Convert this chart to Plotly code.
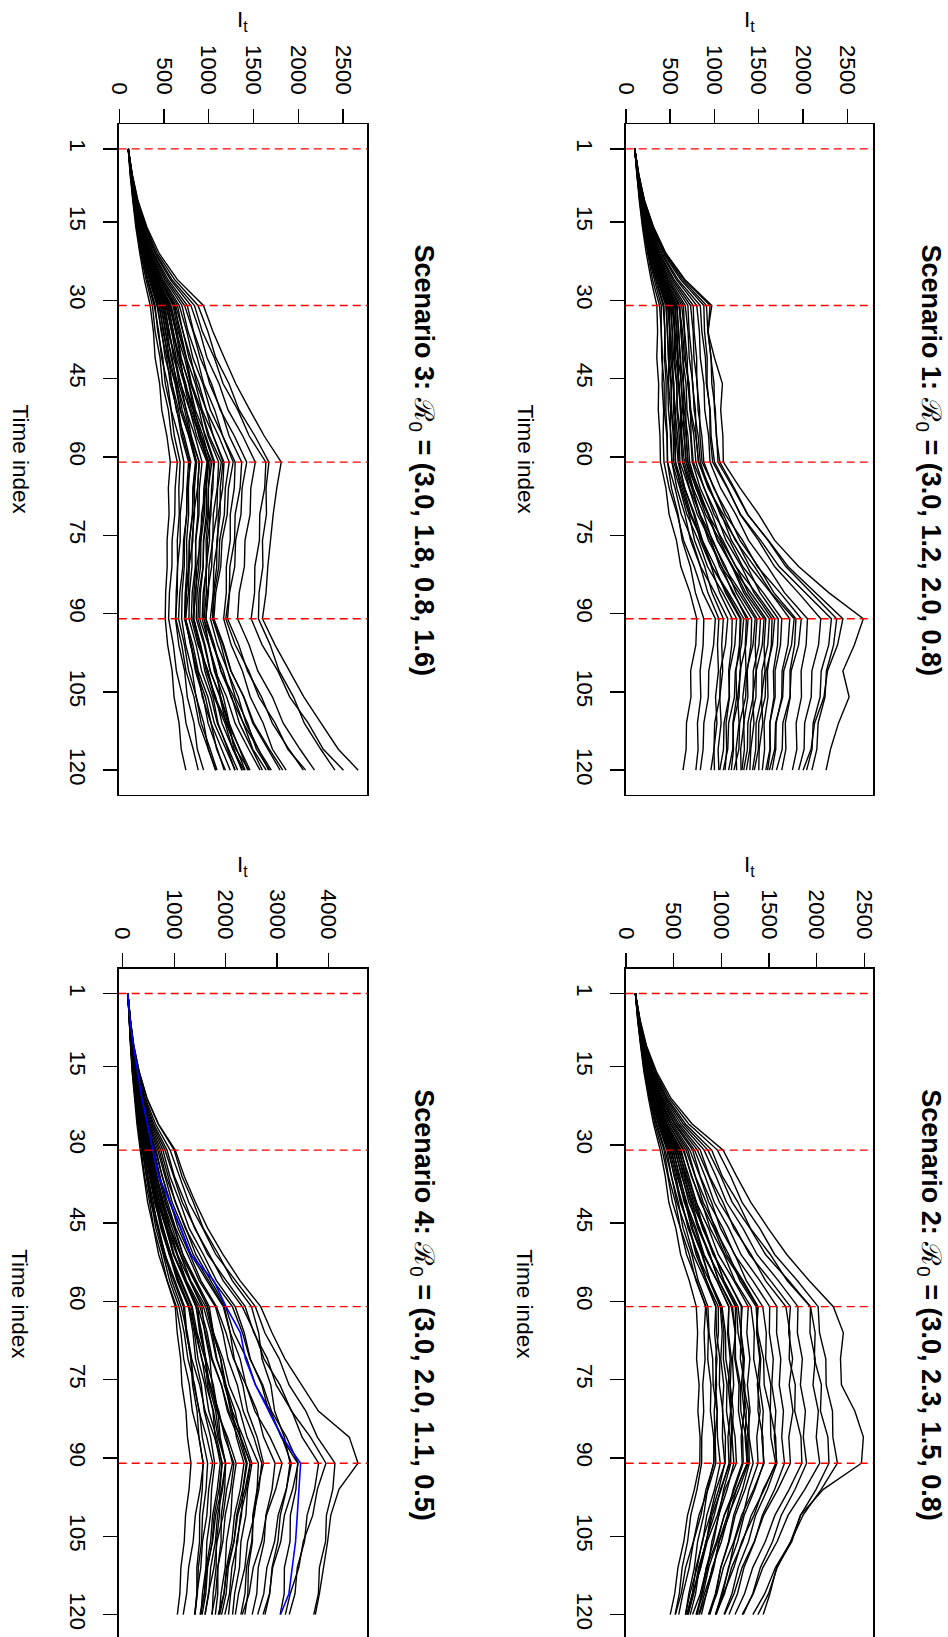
import plotly.graph_objects as go

# ---------------- data ----------------
time_knots = [1, 6, 11, 16, 21, 26, 31, 36, 41, 46, 51, 56, 61, 66, 71, 76, 81, 86, 91, 96, 101, 106, 111, 116, 120]
change_points = [1, 31, 61, 91]
time_ticks = [1, 15, 30, 45, 60, 75, 90, 105, 120]
it_ticks_small = [0, 500, 1000, 1500, 2000, 2500]
it_ticks_large = [0, 1000, 2000, 3000, 4000]

scenario_labels = ["Scenario 1:", "Scenario 2:", "Scenario 3:", "Scenario 4:"]
scenario_r0 = ["(3.0, 1.2, 2.0, 0.8)", "(3.0, 2.3, 1.5, 0.8)", "(3.0, 1.8, 0.8, 1.6)", "(3.0, 2.0, 1.1, 0.5)"]

scenario1 = [
    [100,123,152,187,230,284,350,358,349,370,366,385,390,452,488,571,620,724,800,790,731,735,684,680,645],
    [100,124,157,192,246,300,380,401,404,432,433,463,470,515,590,636,728,785,880,872,838,846,808,815,790],
    [100,127,157,203,250,320,400,398,415,409,426,421,430,489,580,652,771,868,1010,990,936,931,880,872,840],
    [100,128,160,207,258,334,420,441,447,474,480,510,520,576,666,731,841,925,1050,1034,1045,1012,1028,994,1000],
    [100,129,162,210,263,341,430,440,436,455,451,468,470,555,625,748,843,1004,1150,1125,1066,1060,1002,995,960],
    [100,130,164,214,271,354,450,472,478,508,515,548,560,620,712,776,890,972,1100,1082,1093,1060,1075,1041,1050],
    [100,130,167,213,279,355,460,466,484,482,505,503,520,611,688,818,921,1092,1250,1230,1170,1165,1108,1102,1060],
    [100,131,166,219,279,367,470,496,505,540,548,585,600,665,766,840,964,1058,1200,1195,1160,1170,1131,1138,1120],
    [100,129,170,217,287,368,480,495,492,516,514,535,540,636,722,858,972,1158,1330,1305,1236,1225,1160,1150,1100],
    [100,131,171,223,286,378,490,500,526,531,560,566,590,664,777,865,1006,1124,1290,1282,1243,1250,1208,1215,1190],
    [100,132,170,226,290,385,500,527,537,573,583,622,640,720,838,932,1082,1205,1380,1356,1288,1278,1214,1206,1160],
    [100,130,173,224,298,387,510,522,519,541,538,556,560,652,735,864,972,1142,1300,1285,1296,1262,1278,1244,1250],
    [100,133,172,230,298,398,520,550,563,603,615,660,680,760,880,972,1124,1245,1420,1412,1370,1377,1330,1338,1310],
    [100,131,175,228,306,400,530,548,550,575,577,603,610,714,806,955,1078,1274,1460,1435,1362,1352,1284,1276,1220],
    [100,133,174,234,306,410,540,553,584,590,625,632,660,752,829,958,1058,1218,1360,1348,1356,1320,1334,1296,1300],
    [100,134,175,237,310,417,550,578,590,628,638,680,700,790,925,1034,1208,1352,1560,1540,1472,1468,1406,1400,1360],
    [100,132,179,235,318,419,560,568,590,592,617,620,640,745,838,984,1106,1300,1480,1460,1470,1432,1446,1410,1400],
    [100,135,178,241,317,430,570,598,610,648,657,700,720,806,935,1035,1198,1330,1520,1502,1438,1436,1377,1372,1330],
    [100,133,181,239,325,431,580,591,618,622,651,656,680,795,898,1062,1198,1414,1620,1602,1536,1534,1470,1466,1430],
    [100,136,181,247,328,448,600,628,640,679,690,731,750,840,972,1076,1243,1380,1580,1560,1570,1530,1545,1505,1500],
    [100,134,184,245,336,449,610,620,645,650,676,682,700,820,927,1096,1240,1466,1680,1655,1582,1572,1500,1496,1450],
    [100,137,184,253,339,466,630,660,672,712,722,768,790,884,1022,1130,1305,1446,1650,1642,1598,1604,1560,1566,1540],
    [100,136,188,253,350,474,650,663,692,698,730,736,760,886,996,1170,1318,1550,1760,1745,1684,1685,1625,1626,1580],
    [100,138,188,261,353,491,670,702,715,757,770,816,840,938,1078,1192,1370,1514,1720,1712,1665,1672,1625,1632,1600],
    [100,139,190,267,364,508,700,714,745,751,785,792,820,950,1065,1246,1398,1634,1850,1830,1764,1760,1696,1692,1650],
    [100,140,193,272,374,526,730,760,768,807,815,858,880,992,1153,1288,1495,1670,1920,1905,1852,1856,1800,1806,1760],
    [100,141,195,277,383,543,760,770,799,801,832,836,860,1000,1122,1318,1484,1740,1980,1950,1866,1852,1772,1765,1700],
    [100,142,199,285,398,569,800,830,840,881,890,934,950,1070,1240,1385,1600,1790,2050,2035,1978,1982,1922,1930,1880],
    [100,143,202,291,408,586,840,858,898,908,952,962,1000,1152,1290,1497,1678,1946,2200,2175,2100,2092,2018,2012,1950],
    [100,144,205,299,424,616,880,888,918,916,948,950,980,1145,1295,1522,1730,2030,2320,2290,2205,2192,2114,2102,2040],
    [100,145,208,304,436,635,910,925,962,970,1010,1020,1060,1225,1376,1604,1805,2098,2380,2345,2264,2248,2170,2156,2100],
    [100,146,210,310,446,655,950,930,960,995,1000,1025,1040,1212,1372,1610,1830,2144,2450,2390,2276,2236,2130,2090,2000],
    [100,147,212,313,452,665,970,925,1000,1090,1070,1095,1100,1290,1500,1680,1950,2290,2680,2580,2450,2520,2400,2310,2260],
    [100,134,183,243,332,443,600,640,660,712,732,790,820,930,1098,1236,1452,1640,1900,1870,1782,1770,1690,1680,1620],
]

scenario2 = [
    [100,123,154,189,236,290,360,412,450,524,574,664,738,752,741,768,755,778,775,718,646,607,546,512,465],
    [100,124,157,194,246,303,380,440,488,572,636,742,836,820,830,806,816,795,794,746,680,647,590,560,516],
    [100,126,160,199,253,316,400,446,520,572,665,734,840,865,858,892,886,920,924,840,786,709,664,598,554],
    [100,127,159,203,255,325,410,478,534,630,706,830,943,930,955,938,960,935,943,862,765,708,626,580,519],
    [100,129,162,209,264,339,430,476,550,600,692,758,860,872,910,915,955,960,989,930,848,805,735,697,643],
    [100,128,165,210,268,345,440,510,570,668,748,874,990,1010,995,1026,1012,1044,1040,946,884,800,746,672,624],
    [100,130,164,214,271,354,450,505,588,652,760,842,968,970,942,950,926,934,919,855,816,752,718,660,625],
    [100,129,167,214,279,356,460,524,578,667,735,846,943,950,985,980,1016,1012,1037,974,890,844,770,731,674],
    [100,131,167,219,280,366,470,546,612,722,810,952,1081,1066,1094,1072,1098,1070,1081,1000,904,845,762,712,649],
    [100,130,170,218,286,369,480,536,622,688,796,882,1008,1044,1048,1092,1100,1145,1159,1040,958,852,785,698,637],
    [100,131,169,222,289,375,490,566,630,735,820,955,1078,1075,1106,1094,1126,1112,1132,1062,972,920,842,797,736],
    [100,131,172,223,293,381,500,555,638,700,803,882,1000,1028,1022,1060,1055,1094,1100,1025,975,902,858,792,748],
    [100,132,171,227,294,391,510,590,660,774,866,1013,1148,1150,1118,1130,1100,1110,1090,992,926,838,782,705,654],
    [100,131,174,227,301,394,520,584,679,754,876,975,1118,1148,1142,1186,1180,1224,1230,1138,1030,960,868,810,738],
    [100,133,173,231,303,403,530,616,692,814,914,1072,1219,1204,1236,1210,1240,1208,1219,1126,1064,975,922,844,792],
    [100,132,176,231,309,406,540,602,694,765,882,972,1107,1146,1150,1200,1205,1258,1273,1160,1082,980,914,824,764],
    [100,134,176,237,310,416,550,634,708,826,920,1074,1210,1208,1242,1228,1262,1250,1271,1160,1032,950,846,780,699],
    [100,133,179,236,318,420,560,626,725,802,928,1028,1176,1208,1200,1248,1240,1288,1294,1222,1130,1077,995,946,880],
    [100,135,178,241,317,429,570,660,738,866,968,1132,1283,1268,1300,1274,1302,1270,1283,1186,1074,1002,905,845,770],
    [100,133,181,239,325,431,580,644,740,812,930,1024,1160,1176,1228,1232,1288,1292,1334,1250,1146,1083,994,938,867],
    [100,136,181,247,328,447,600,696,784,922,1035,1214,1380,1376,1414,1400,1440,1425,1449,1340,1212,1132,1022,954,869],
    [100,134,184,245,336,449,610,686,796,884,1028,1142,1312,1346,1340,1390,1385,1436,1443,1352,1240,1172,1075,1015,938],
    [100,137,184,253,339,466,630,726,810,946,1055,1228,1386,1370,1404,1378,1408,1372,1386,1292,1228,1138,1080,1000,942],
    [100,136,188,253,350,474,650,728,842,932,1078,1195,1365,1384,1444,1450,1514,1520,1570,1452,1314,1226,1108,1034,942],
    [100,138,188,260,354,489,670,776,868,1018,1138,1330,1508,1504,1545,1530,1572,1556,1583,1484,1360,1286,1178,1112,1029],
    [100,139,190,267,364,508,700,780,898,992,1142,1262,1435,1472,1466,1520,1514,1570,1579,1440,1342,1215,1132,1024,947],
    [100,140,192,269,371,518,720,830,926,1080,1206,1404,1584,1580,1624,1608,1652,1634,1663,1560,1430,1350,1238,1170,1081],
    [100,141,195,275,382,537,750,870,980,1150,1295,1516,1725,1706,1748,1712,1752,1708,1725,1594,1444,1346,1218,1134,1035],
    [100,142,197,280,392,555,780,876,1018,1132,1312,1464,1677,1720,1712,1776,1770,1836,1845,1712,1562,1462,1330,1244,1144],
    [100,143,201,288,406,578,820,944,1055,1228,1375,1598,1804,1798,1850,1830,1882,1860,1894,1774,1628,1538,1410,1330,1231],
    [100,144,204,294,419,602,860,995,1115,1302,1464,1706,1935,1930,1985,1962,2018,1996,2032,1876,1700,1586,1436,1336,1219],
    [100,145,207,301,432,625,900,1010,1175,1306,1514,1690,1935,1984,1976,2050,2040,2118,2129,1994,1830,1728,1586,1496,1384],
    [100,148,216,321,470,695,1020,1160,1310,1492,1687,1920,2175,2280,2250,2260,2400,2490,2470,2070,1830,1740,1580,1510,1440],
    [100,147,211,311,450,659,960,1098,1218,1404,1560,1796,2016,2030,2096,2100,2166,2170,2218,2048,1856,1730,1568,1456,1331],
]

scenario3 = [
    [100,121,151,184,229,279,345,381,400,451,474,532,570,548,556,534,535,518,513,540,590,612,668,692,744],
    [100,125,154,193,238,298,370,400,455,482,548,582,648,624,620,590,588,560,551,604,638,708,745,826,882],
    [100,124,158,196,249,310,390,440,472,540,580,662,722,712,680,681,650,648,628,665,730,760,835,872,942],
    [100,127,158,202,251,319,400,430,486,514,578,615,680,665,670,648,652,636,632,698,745,835,890,995,1075],
    [100,128,160,207,258,333,420,474,512,588,636,726,798,760,754,718,710,676,662,728,775,862,915,1016,1092],
    [100,129,162,209,264,339,430,468,530,570,645,694,774,755,752,728,726,702,697,742,815,858,944,995,1080],
    [100,128,165,209,270,343,440,499,542,624,678,778,858,826,818,782,776,740,729,805,860,962,1026,1146,1240],
    [100,130,164,214,271,354,450,488,550,588,662,709,788,772,775,752,756,738,733,800,850,938,992,1096,1172],
    [100,130,167,213,279,355,460,517,558,634,685,778,851,822,818,785,782,750,740,822,882,990,1062,1192,1295],
    [100,131,167,219,280,366,470,516,590,640,730,793,893,875,830,822,780,772,741,795,876,928,1025,1088,1186],
    [100,129,170,217,287,368,480,535,578,652,702,792,864,840,840,812,812,784,778,858,920,1025,1096,1222,1322],
    [100,131,169,223,287,378,490,542,625,685,788,864,980,945,936,895,888,848,833,904,955,1047,1104,1211,1291],
    [100,132,170,226,291,384,500,560,606,690,745,845,925,895,890,855,850,815,805,880,990,1068,1203,1302,1449],
    [100,131,173,224,298,387,510,553,622,667,750,805,893,875,878,852,856,834,830,910,972,1078,1148,1272,1370],
    [100,133,172,230,298,398,520,586,636,726,788,898,988,956,950,912,908,870,860,948,1015,1133,1212,1350,1461],
    [100,133,174,231,303,404,530,585,672,732,838,914,1034,995,988,944,936,892,879,958,1018,1124,1192,1312,1406],
    [100,134,176,236,311,408,540,605,655,744,805,912,999,972,972,940,938,906,899,996,1072,1200,1294,1446,1573],
    [100,133,178,235,314,413,550,600,676,730,824,888,990,970,920,910,866,856,822,890,990,1060,1182,1268,1397],
    [100,135,177,239,315,423,560,630,686,781,850,966,1064,1030,1024,984,978,938,926,1005,1062,1163,1229,1345,1435],
    [100,133,180,238,321,426,570,632,727,797,915,1006,1140,1098,1090,1040,1032,985,969,1062,1134,1257,1342,1484,1599],
    [100,135,179,243,322,435,580,644,692,776,833,935,1015,995,998,970,974,948,944,1050,1138,1280,1386,1554,1699],
    [100,136,181,247,328,447,600,658,745,808,914,992,1110,1095,1050,1045,1002,996,966,1045,1162,1248,1387,1492,1642],
    [100,136,182,248,333,452,610,686,748,850,926,1052,1159,1128,1127,1090,1089,1052,1043,1136,1210,1330,1416,1555,1669],
    [100,137,184,252,340,464,630,712,779,890,972,1110,1229,1185,1174,1122,1112,1062,1044,1156,1246,1394,1504,1678,1827],
    [100,138,186,256,347,477,650,710,798,864,972,1050,1170,1155,1106,1100,1056,1050,1018,1098,1212,1296,1434,1532,1680],
    [100,138,188,260,354,489,670,754,822,934,1018,1156,1273,1220,1206,1148,1134,1078,1057,1165,1250,1390,1492,1658,1797],
    [100,139,190,266,365,507,700,768,870,943,1066,1156,1295,1285,1240,1240,1196,1196,1166,1250,1376,1464,1608,1712,1865],
    [100,140,193,271,375,524,730,825,904,1031,1128,1286,1424,1372,1360,1300,1290,1232,1210,1334,1432,1590,1710,1896,2057],
    [100,141,195,277,383,543,760,830,934,1010,1137,1228,1368,1350,1295,1288,1236,1230,1190,1296,1448,1560,1742,1884,2083],
    [100,142,199,285,398,569,800,900,980,1115,1215,1380,1520,1470,1462,1405,1398,1340,1322,1450,1548,1712,1832,2020,2182],
    [100,143,202,291,408,586,840,928,1062,1160,1325,1452,1638,1625,1570,1566,1515,1512,1474,1596,1772,1906,2112,2280,2506],
    [100,144,205,299,424,616,880,990,1078,1226,1338,1516,1672,1640,1645,1600,1605,1562,1555,1686,1786,1948,2068,2252,2410],
    [100,146,210,309,444,648,940,1046,1173,1302,1458,1620,1810,1760,1720,1690,1660,1640,1600,1740,1901,2064,2255,2448,2670],
    [100,135,185,248,338,456,620,670,748,800,892,955,1054,1046,1008,1008,972,972,949,1000,1085,1132,1228,1282,1376],
]

scenario4 = [
    [100,122,151,183,227,276,340,415,484,598,698,860,1020,1058,1125,1150,1228,1258,1326,1288,1220,1195,1130,1110,1061],
    [100,123,154,189,237,291,360,424,522,605,744,864,1044,1130,1184,1294,1352,1480,1566,1504,1410,1368,1280,1242,1175],
    [100,124,157,193,246,302,380,466,546,680,798,988,1178,1232,1332,1380,1490,1546,1649,1618,1550,1532,1468,1450,1402],
    [100,125,157,197,248,311,390,456,558,644,786,910,1092,1194,1266,1398,1480,1632,1747,1670,1634,1550,1516,1440,1398],
    [100,127,158,202,250,319,400,488,570,702,822,1012,1200,1244,1322,1356,1444,1480,1560,1545,1494,1492,1440,1440,1404],
    [100,128,160,207,258,333,420,490,594,682,826,950,1134,1252,1340,1494,1600,1782,1928,1870,1776,1738,1648,1614,1542],
    [100,129,162,209,264,339,430,526,618,768,904,1118,1333,1410,1540,1618,1762,1850,2000,1920,1804,1746,1638,1588,1500],
    [100,128,165,209,270,343,440,518,636,740,906,1056,1276,1364,1414,1526,1582,1706,1786,1726,1704,1634,1616,1548,1518],
    [100,130,164,214,271,354,450,548,640,790,925,1138,1350,1444,1596,1692,1866,1978,2160,2096,1990,1946,1846,1806,1728],
    [100,129,167,213,279,355,460,538,658,760,926,1072,1288,1392,1462,1594,1672,1822,1932,1888,1878,1820,1814,1756,1739],
    [100,131,167,219,280,366,470,575,676,840,988,1222,1457,1510,1606,1646,1752,1796,1894,1836,1746,1706,1620,1584,1515],
    [100,130,170,218,286,369,480,560,676,780,942,1086,1296,1430,1532,1706,1828,2036,2203,2130,2100,2016,1990,1910,1873],
    [100,131,169,222,287,377,490,592,690,846,984,1204,1421,1536,1612,1760,1844,2010,2132,2018,1950,1832,1772,1664,1599],
    [100,132,170,226,291,384,500,594,730,856,1052,1236,1500,1640,1738,1918,2034,2240,2400,2330,2212,2162,2050,2008,1920],
    [100,131,173,224,298,387,510,612,710,864,1000,1218,1428,1496,1614,1672,1806,1872,1999,1980,1914,1910,1848,1846,1799],
    [100,133,172,230,298,398,520,620,770,904,1120,1320,1612,1740,1828,1994,2094,2280,2418,2336,2306,2212,2184,2096,2055],
    [100,133,174,231,303,404,530,640,748,914,1064,1300,1537,1592,1694,1736,1848,1894,1998,1938,1842,1800,1708,1672,1598],
    [100,134,176,236,311,408,540,630,760,878,1058,1222,1458,1608,1722,1918,2058,2290,2479,2404,2286,2232,2120,2074,1983],
    [100,133,178,235,314,413,550,668,784,964,1132,1390,1650,1750,1906,2002,2180,2290,2475,2376,2232,2160,2028,1964,1856],
    [100,135,177,239,315,423,560,658,798,926,1124,1306,1568,1712,1818,2004,2126,2340,2509,2424,2392,2296,2268,2174,2133],
    [100,135,179,243,322,435,580,700,818,1000,1166,1424,1682,1762,1900,1972,2124,2208,2355,2284,2170,2120,2014,1970,1884],
    [100,136,181,247,328,447,600,712,876,1028,1262,1484,1800,1944,2042,2226,2340,2546,2700,2644,2540,2506,2404,2374,2295],
    [100,134,184,245,336,449,610,728,840,1014,1170,1410,1647,1762,1946,2064,2274,2414,2635,2610,2526,2520,2440,2430,2372],
    [100,137,184,252,340,464,630,770,908,1122,1326,1634,1953,2086,2166,2332,2424,2610,2734,2614,2556,2426,2372,2250,2187],
    [100,136,188,253,350,474,650,764,926,1076,1304,1518,1820,2006,2150,2394,2566,2860,3094,2970,2790,2700,2534,2456,2321],
    [100,139,189,262,358,495,680,820,960,1170,1368,1668,1972,2090,2280,2394,2608,2736,2958,2900,2780,2748,2632,2604,2514],
    [100,139,192,267,369,510,710,842,1036,1218,1492,1756,2130,2326,2470,2720,2888,3180,3408,3300,3140,3070,2912,2850,2726],
    [100,141,194,274,379,532,740,882,1020,1228,1420,1710,1998,2160,2410,2578,2870,3080,3397,3364,3256,3250,3140,3136,3057],
    [100,142,197,280,392,555,780,916,1112,1292,1566,1820,2184,2360,2478,2700,2836,3090,3276,3176,3018,2950,2800,2740,2621],
    [100,143,201,288,406,578,820,990,1156,1410,1650,2010,2378,2546,2810,2980,3284,3484,3805,3726,3580,3530,3390,3346,3234],
    [100,144,204,294,419,602,860,1004,1210,1398,1684,1950,2322,2560,2744,3054,3276,3646,3947,3780,3690,3506,3420,3254,3158],
    [100,146,209,304,438,636,920,1104,1282,1556,1808,2190,2576,2760,3040,3230,3556,3780,4122,4080,3956,3940,3820,3800,3710],
    [100,148,216,321,470,695,1020,1195,1411,1651,1946,2279,2680,2900,3150,3480,3800,4400,4570,4200,4040,3980,3900,3820,3740],
    [100,148,215,319,466,688,1000,1150,1372,1566,1860,2128,2500,2640,2704,2876,2950,3140,3250,3180,3060,3014,2900,2856,2763],
]

scenario4_highlight = [100,143,208,286,370,480,584,695,922,1130,1312,1766,2007,2286,2383,2578,2838,3098,3455,3422,3403,3357,3292,3228,3065]

# ---------------- layout helpers ----------------
W, H = 948, 1637
FONT = "Liberation Sans, Arial, Helvetica, sans-serif"
BASE = 22.5
TITLE = 27


def fx(p):
    return p / W


def fy(p):
    return 1 - p / H


RIGHT = (625.7, 873.3)
LEFT = (118.7, 367.3)
TOP = (124.0, 795.0)
BOTTOM = (968.7, 1637.0)
PANEL_H = 671.0

panels = [
    dict(curves=scenario1, idx=0, xpx=RIGHT, ypx=TOP, xr=[-2, 2793], tr=[124.76, -3.76],
         xt=it_ticks_small, title_x=929, tindex_x=525, bottom_line=True),
    dict(curves=scenario2, idx=1, xpx=RIGHT, ypx=BOTTOM, xr=[-2, 2594], tr=[124.3, -3.76],
         xt=it_ticks_small, title_x=929, tindex_x=525, bottom_line=False),
    dict(curves=scenario3, idx=2, xpx=LEFT, ypx=TOP, xr=[-7, 2772], tr=[124.76, -3.76],
         xt=it_ticks_small, title_x=422, tindex_x=20, bottom_line=True),
    dict(curves=scenario4, idx=3, xpx=LEFT, ypx=BOTTOM, xr=[-78, 4750], tr=[124.3, -3.76],
         xt=it_ticks_large, title_x=422, tindex_x=20, bottom_line=False),
]

fig = go.Figure()
layout = dict(
    template="none",
    width=W, height=H, autosize=False,
    margin=dict(l=0, r=0, t=0, b=0, pad=0, autoexpand=False),
    paper_bgcolor="white", plot_bgcolor="white",
    font=dict(family=FONT, size=BASE, color="black"),
    showlegend=False,
)
shapes = []
annotations = []

for n, p in enumerate(panels, start=1):
    xa = "x" if n == 1 else f"x{n}"
    ya = "y" if n == 1 else f"y{n}"
    xkey = "xaxis" if n == 1 else f"xaxis{n}"
    ykey = "yaxis" if n == 1 else f"yaxis{n}"

    for c in p["curves"]:
        fig.add_trace(go.Scatter(x=c, y=time_knots, mode="lines",
                                 line=dict(color="black", width=1.4),
                                 xaxis=xa, yaxis=ya, hoverinfo="skip"))
    if p["idx"] == 3:
        fig.add_trace(go.Scatter(x=scenario4_highlight, y=time_knots, mode="lines",
                                 line=dict(color="#0000ff", width=1.6),
                                 xaxis=xa, yaxis=ya, hoverinfo="skip"))

    layout[xkey] = dict(
        domain=[fx(p["xpx"][0]), fx(p["xpx"][1])], range=p["xr"], anchor=ya, side="top",
        tickmode="array", tickvals=p["xt"], ticktext=[str(v) for v in p["xt"]],
        tickangle=90, ticks="outside", ticklen=14, tickwidth=1.4, tickcolor="black",
        ticklabelstandoff=6, automargin=False,
        showline=True, linecolor="black", linewidth=1.4, mirror=p["bottom_line"],
        showgrid=False, zeroline=False, tickfont=dict(family=FONT, size=BASE, color="black"),
    )
    layout[ykey] = dict(
        domain=[fy(p["ypx"][1]), fy(p["ypx"][0])], range=p["tr"], anchor=xa, side="left",
        tickmode="array", tickvals=time_ticks, ticktext=[str(v) for v in time_ticks],
        tickangle=90, ticks="outside", ticklen=14, tickwidth=1.4, tickcolor="black",
        ticklabelstandoff=6, automargin=False,
        showline=True, linecolor="black", linewidth=1.4, mirror=True,
        showgrid=False, zeroline=False, tickfont=dict(family=FONT, size=BASE, color="black"),
    )

    for cp in change_points:
        shapes.append(dict(type="line", xref=f"{xa} domain", x0=0, x1=1, yref=ya, y0=cp, y1=cp,
                           line=dict(color="red", width=1.4, dash="8px,5px"), layer="above"))

    centre_y = p["ypx"][0] + PANEL_H / 2
    centre_x = (p["xpx"][0] + p["xpx"][1]) / 2

    title = (f"<b>{scenario_labels[p['idx']]} </b>\u211b<sub>0</sub>"
             f"<b> = {scenario_r0[p['idx']]}</b>")
    annotations.append(dict(text=title, xref="paper", yref="paper", x=fx(p["title_x"]), y=fy(centre_y),
                            xanchor="center", yanchor="middle", textangle=90, showarrow=False,
                            font=dict(family=FONT, size=TITLE, color="black")))
    annotations.append(dict(text="Time index", xref="paper", yref="paper", x=fx(p["tindex_x"]), y=fy(centre_y),
                            xanchor="center", yanchor="middle", textangle=90, showarrow=False,
                            font=dict(family=FONT, size=BASE, color="black")))
    annotations.append(dict(text="I<sub>t</sub>", xref="paper", yref="paper", x=fx(centre_x),
                            y=fy(p["ypx"][0] - 103), xanchor="center", yanchor="middle", showarrow=False,
                            font=dict(family=FONT, size=BASE, color="black")))

layout["shapes"] = shapes
layout["annotations"] = annotations
fig.update_layout(**layout)
fig.write_html(
    "out.html",
    config={"displayModeBar": False, "staticPlot": True},
    post_script="document.body.style.margin='0';document.body.style.padding='0';",
)
